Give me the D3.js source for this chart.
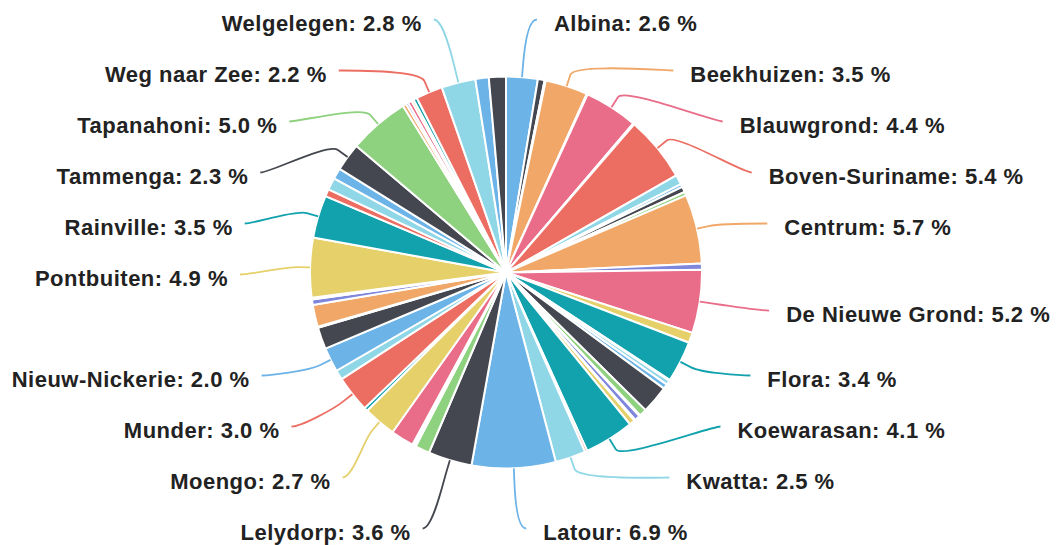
<!DOCTYPE html>
<html><head><meta charset="utf-8">
<script src="https://cdn.jsdelivr.net/npm/d3@7"></script>
<style>html,body{margin:0;padding:0;background:#fff;} svg{display:block;}</style>
</head><body>
<svg id="chart" width="1059" height="545"></svg>
<script>
const resorts = [
  "Albina","Alkmaar","Bakki","Beekhuizen","Bigi Poika","Blauwgrond","Boven-Coppename","Boven-Saramacca",
  "Boven-Suriname","Brownsweg","Calcutta","Carolina","Centrum Brokopondo","Centrum","Coeroeni","De Nieuwe Grond",
  "Domburg","Flora","Galibi","Groningen","Groot Henar","Houttuin","Jarikaba","Johanna Maria",
  "Kabalebo","Kampong Baroe","Klaaskreek","Koewarasan","Kwakoegron","Kwatta","Latour","Lelydorp",
  "Livorno","Marchallkreek","Margarethenburg","Meerzorg","Moengo","Moengotapoe","Munder","Nieuw-Amsterdam",
  "Nieuw-Nickerie","Noord","Oost","Oostelijke Polders","Patamacca","Onbekend","Pontbuiten","Rainville",
  "Saramacca Polder","Sarakreek","Tamanredjo","Tammenga","Tapanahoni","Tijgerkreek","Totness","Wageningen",
  "Wanhatti","Wayambo","Weg naar Zee","Welgelegen","Westelijke Polders","Zuid"
];
const shares = [
  2.6, 0.55, 0.1, 3.5, 0.08, 4.4, 0.05, 0.05,
  5.4, 0.8, 0.25, 0.45, 0.3, 5.7, 0.5, 5.2,
  0.85, 3.4, 0.1, 0.35, 0.4, 2.3, 0.6, 0.1,
  0.45, 0.1, 0.45, 4.1, 0.2, 2.5, 6.9, 3.6,
  1.2, 0.15, 0.15, 1.9, 2.7, 0.3, 3.0, 0.8,
  2.0, 1.8, 0.1, 1.8, 0.45, 0.15, 4.9, 3.5,
  0.6, 1.0, 0.9, 2.3, 5.0, 0.3, 0.2, 0.3,
  0.2, 0.3, 2.2, 2.8, 1.1, 1.4
];
const labelled = [
  "Albina","Beekhuizen","Blauwgrond","Boven-Suriname","Centrum","De Nieuwe Grond","Flora","Koewarasan",
  "Kwatta","Latour","Lelydorp","Moengo","Munder","Nieuw-Nickerie","Pontbuiten","Rainville",
  "Tammenga","Tapanahoni","Weg naar Zee","Welgelegen"
];
const palette = ["#6cb3e7","#44474f","#8ed17f","#f0a767","#7f87dc","#e96c88","#e6d06a","#12a2ae","#ec6e63","#8fd7e6"];

const W = 1059, H = 545, cx = 506, cy = 272.5, r = 196, labelDist = 60, boxH = 51;
const svg = d3.select("#chart");
svg.append("rect").attr("width", W).attr("height", H).attr("fill", "#fff");

const data = resorts.map((name, i) => ({name, value: shares[i]}));
const arcs = d3.pie().value(d => d.value).sort(null)(data);
const arc = d3.arc().innerRadius(0).outerRadius(r);
const color = d3.scaleOrdinal().domain(d3.range(palette.length)).range(palette);

const g = svg.append("g").attr("transform", `translate(${cx},${cy})`);
g.selectAll("path.slice").data(arcs).join("path")
  .attr("class", "slice")
  .attr("d", arc)
  .attr("fill", d => color(d.index % palette.length))
  .attr("stroke", "#fff").attr("stroke-width", 2).attr("stroke-linejoin", "round");

// label layout (distribution like the original chart library)
const R = r + labelDist;
const labelTop = cy - R + 3, labelBottom = cy + R;
const pts = arcs.filter(a => labelled.includes(a.data.name)).map(a => {
  const ang = (a.startAngle + a.endAngle) / 2;
  return {a, ang, left: ang > Math.PI, natY: cy - Math.cos(ang) * R};
});
function distribute(list) {
  list.sort((p, q) => p.natY - q.natY);
  const groups = list.map(p => ({items: [p], min: p.natY, max: p.natY}));
  let overlapping = true;
  while (overlapping) {
    groups.forEach(gp => {
      const n = gp.items.length, centre = (gp.min + gp.max) / 2;
      const start = centre - (n - 1) / 2 * boxH;
      gp.start = Math.max(labelTop, Math.min(labelBottom - (n - 1) * boxH, start));
    });
    overlapping = false;
    for (let i = groups.length - 1; i > 0; i--) {
      const a = groups[i - 1], b = groups[i];
      if (a.start + a.items.length * boxH > b.start) {
        a.items = a.items.concat(b.items);
        a.min = Math.min(a.min, b.min); a.max = Math.max(a.max, b.max);
        groups.splice(i, 1); overlapping = true;
      }
    }
  }
  groups.forEach(gp => gp.items.forEach((p, k) => { p.y = gp.start + k * boxH; }));
}
distribute(pts.filter(p => !p.left));
distribute(pts.filter(p => p.left));
function getX(y, left) {
  const t = Math.max(-1, Math.min(1, (y - cy) / R));
  return cx + (left ? -1 : 1) * (Math.cos(Math.asin(t)) * R + 10);
}
pts.forEach(p => {
  p.x = getX((p.y < labelTop + 2 || p.y > labelBottom - 2) ? p.natY : p.y, p.left);
  const s = Math.sin(p.ang), c = Math.cos(p.ang);
  const tx = cx + s * r, ty = cy - c * r;
  const bx = cx + s * (r + 12), by = cy - c * (r + 12);
  p.path = `M${p.x},${p.y}C${p.x + (p.left ? 10 : -10)},${p.y} ${2 * bx - tx},${2 * by - ty} ${bx},${by}L${tx},${ty}`;
});

svg.append("g").selectAll("path").data(pts).join("path")
  .attr("d", p => p.path)
  .attr("fill", "none")
  .attr("stroke", p => color(p.a.index % palette.length))
  .attr("stroke-width", 1.8);

svg.append("g").selectAll("text").data(pts).join("text")
  .attr("x", p => p.left ? p.x - 12 : p.x + 17)
  .attr("y", p => p.y + 11)
  .attr("text-anchor", p => p.left ? "end" : "start")
  .attr("font-family", "'Liberation Sans', Arial, sans-serif")
  .attr("font-weight", "bold")
  .attr("font-size", "22px")
  .attr("letter-spacing", "0.5px")
  .attr("fill", "#222")
  .attr("stroke", "#fff").attr("stroke-width", 2).attr("paint-order", "stroke")
  .text(p => `${p.a.data.name}: ${p.a.data.value.toFixed(1)} %`);
</script>
</body></html>
